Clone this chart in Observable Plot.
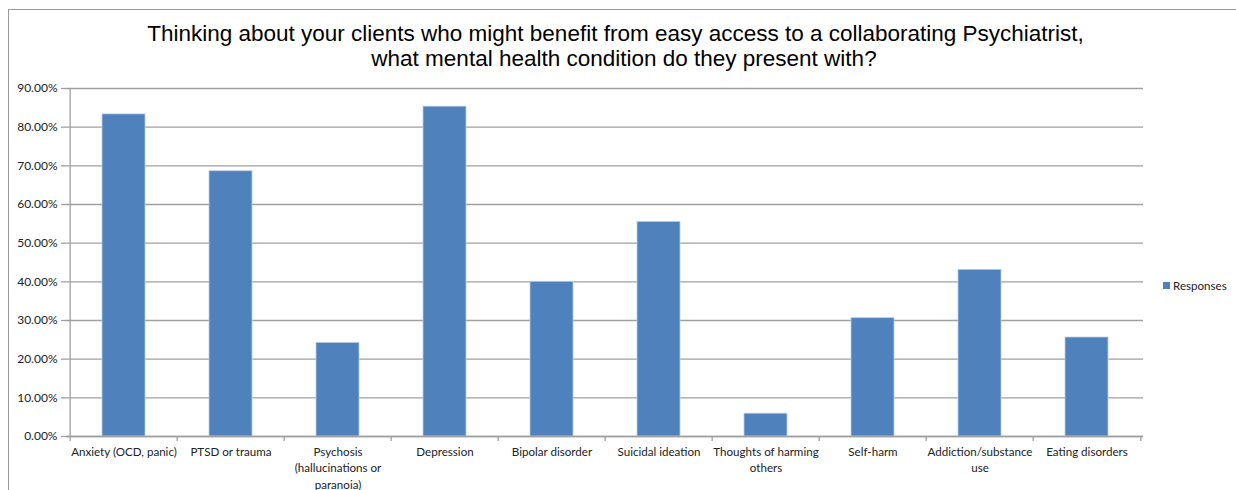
<!DOCTYPE html>
<html>
<head>
<meta charset="utf-8">
<script src="https://cdn.jsdelivr.net/npm/d3@7"></script>
<script src="https://cdn.jsdelivr.net/npm/@observablehq/plot@0.6"></script>
<style>
  html, body { margin: 0; padding: 0; background: #fff; overflow: hidden; }
  #wrap { position: relative; width: 1236px; height: 490px; background: #fff; }
  .tline { position: absolute; width: 1236px; text-align: center; white-space: nowrap;
    font-family: "Liberation Sans", Arial, sans-serif; font-size: 22.5px; line-height: 25px; color: #000; }
  #chart { position: absolute; left: 0; top: 80px; }
  #frame { position: absolute; left: 8px; top: 9px; width: 1300px; height: 600px;
    border-top: 1.5px solid #9a9a9a; border-left: 1.5px solid #9a9a9a; pointer-events: none; }
  #legend { position: absolute; left: 1163px; top: 279px; font-family: Lato, sans-serif; font-size: 11.6px; color: #222;
    display: flex; align-items: center; gap: 3px; }
  #legend .sw { width: 7px; height: 7px; background: #4f81bd; }
</style>
</head>
<body>
<div id="wrap">
  <div class="tline" style="left:-2.5px; top:21px;">Thinking about your clients who might benefit from easy access to a collaborating Psychiatrist,</div>
  <div class="tline" style="left:6px; top:46px;">what mental health condition do they present with?</div>
  <div id="chart"></div>
  <div id="legend"><span class="sw"></span><span>Responses</span></div>
  <div id="frame"></div>
</div>
<script>
const categories = [
  "Anxiety (OCD, panic)", "PTSD or trauma", "Psychosis (hallucinations or paranoia)", "Depression",
  "Bipolar disorder", "Suicidal ideation", "Thoughts of harming others", "Self-harm",
  "Addiction/substance use", "Eating disorders"
];
const tickLabels = [
  "Anxiety (OCD, panic)", "PTSD or trauma", "Psychosis\n(hallucinations or\nparanoia)", "Depression",
  "Bipolar disorder", "Suicidal ideation", "Thoughts of harming\nothers", "Self-harm",
  "Addiction/substance\nuse", "Eating disorders"
];
const responses = [0.833, 0.686, 0.242, 0.853, 0.400, 0.555, 0.059, 0.306, 0.431, 0.256];
const yTicks = [0, 0.1, 0.2, 0.3, 0.4, 0.5, 0.6, 0.7, 0.8, 0.9];

const data = categories.map((c, i) => ({category: c, value: responses[i]}));

const W = 1236, H = 410, mL = 66, mR = 93, mT = 8, mB = 54;
const step = (W - mL - mR) / categories.length;
const grey = "#a0a0a0";

const chart = Plot.plot({
  width: W, height: H,
  marginLeft: mL, marginRight: mR, marginTop: mT, marginBottom: mB,
  style: {fontFamily: "Lato, sans-serif", fontSize: "11.6px", color: "#222", background: "transparent", overflow: "visible"},
  x: {domain: categories, paddingInner: 0.6, paddingOuter: 0.3, label: null},
  y: {domain: [0, 0.9], label: null},
  marks: [
    Plot.gridY(yTicks, {stroke: grey, strokeOpacity: 1, strokeWidth: 1.3}),
    Plot.barY(data, {x: "category", y: "value", fill: "#4f81bd", stroke: "#b9cde5", strokeWidth: 0.8}),
    Plot.ruleY([0], {stroke: grey, strokeWidth: 1.3}),
    Plot.ruleX([categories[0]], {x: d => d, y1: 0, y2: 0.9, dx: -step / 2, stroke: grey, strokeWidth: 1.3}),
    Plot.ruleX(categories, {x: d => d, y1: 0, y2: 0, dx: -step / 2, insetTop: 0, insetBottom: -5, stroke: grey, strokeWidth: 1.3}),
    Plot.ruleX([categories[categories.length - 1]], {x: d => d, y1: 0, y2: 0, dx: step / 2, insetTop: 0, insetBottom: -5, stroke: grey, strokeWidth: 1.3}),
    Plot.axisY(yTicks, {tickFormat: d => (d * 100).toFixed(2) + "%", tickSize: 5, tickPadding: 4, fontSize: 12, stroke: grey, strokeWidth: 1.3, label: null}),
    Plot.axisX({tickSize: 0, tickPadding: 8, lineHeight: 1.4, tickFormat: d => tickLabels[categories.indexOf(d)], label: null})
  ]
});
document.getElementById("chart").appendChild(chart);
</script>
</body>
</html>
